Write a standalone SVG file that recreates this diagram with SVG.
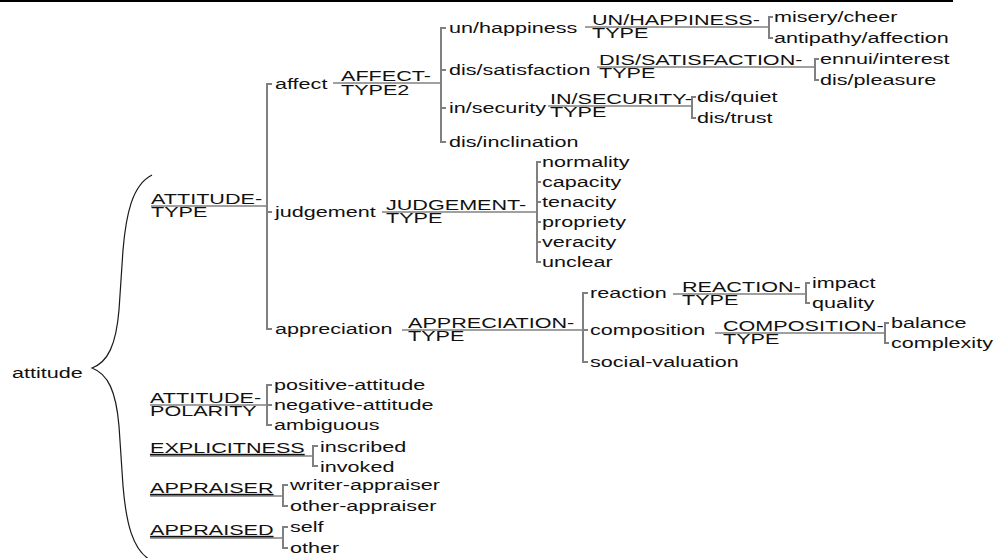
<svg xmlns="http://www.w3.org/2000/svg" width="1005" height="558" viewBox="0 0 1005 558">
<style>
.t{font-family:"Liberation Sans",Arial,sans-serif;font-size:15px;fill:#111}
.u{text-decoration:underline}
.c path{fill:none;stroke:#808080;stroke-width:2}
.c path.h{stroke-width:1.6}
.c path.brace{fill:none;stroke:#1a1a1a;stroke-width:1.2}
</style>
<rect x="0" y="0" width="953" height="2" fill="#000"/>
<g id="connectors" class="c">
<path class="brace" d="M152,175 C132,185 126,215 123,250 L119,310 C116,345 108,362 92,368 C108,374 116,391 119,426 L123,486 C126,521 132,551 152,561"/>
<path class="h" d="M151,206 H267"/>
<path d="M272,84 H267 V329 H272 M267,212 h5"/>
<path class="h" d="M333,83 H441"/>
<path d="M446,28 H441 V142 H446 M441,70 h5 M441,108 h5"/>
<path class="h" d="M585,27 H769"/>
<path d="M773,17 H769 V38 H773"/>
<path class="h" d="M597,67 H815"/>
<path d="M819,59 H815 V80 H819"/>
<path class="h" d="M548,106 H692"/>
<path d="M696,97 H692 V118 H696"/>
<path class="h" d="M382,212 H537"/>
<path d="M541,162 H537 V262 H541 M537,182 h4 M537,202 h4 M537,222 h4 M537,242 h4"/>
<path class="h" d="M402,330 H583"/>
<path d="M588,293 H583 V362 H588 M583,330 h5"/>
<path class="h" d="M673,294 H806"/>
<path d="M810,283 H806 V303 H810"/>
<path class="h" d="M715,333 H885"/>
<path d="M889,323 H885 V343 H889"/>
<path class="h" d="M150,405 H267"/>
<path d="M272,385 H267 V425 H272 M267,405 h5"/>
<path class="h" d="M150,456 H313"/>
<path d="M318,446 H313 V466 H318"/>
<path class="h" d="M150,496 H283"/>
<path d="M288,485 H283 V506 H288"/>
<path class="h" d="M150,538 H283"/>
<path d="M288,527 H283 V548 H288"/>
</g>
<g id="n-attitude"><text class="t" transform="matrix(1.44 0 0 1 12 378)">attitude</text></g>
<g id="n-attitude-type"><text class="t" transform="matrix(1.44 0 0 1 151 204)">ATTITUDE-</text><text class="t" transform="matrix(1.44 0 0 1 151 217)">TYPE</text></g>
<g id="n-affect"><text class="t" transform="matrix(1.44 0 0 1 275 89)">affect</text></g>
<g id="n-affect-type2"><text class="t" transform="matrix(1.44 0 0 1 341 81)">AFFECT-</text><text class="t" transform="matrix(1.44 0 0 1 341 95)">TYPE2</text></g>
<g id="n-unhappiness"><text class="t" transform="matrix(1.44 0 0 1 449 33)">un/happiness</text></g>
<g id="n-unhappiness-type"><text class="t" transform="matrix(1.44 0 0 1 592 25)">UN/HAPPINESS-</text><text class="t" transform="matrix(1.44 0 0 1 592 38)">TYPE</text></g>
<g id="n-misery"><text class="t" transform="matrix(1.44 0 0 1 774 22)">misery/cheer</text></g>
<g id="n-antipathy"><text class="t" transform="matrix(1.44 0 0 1 774 43)">antipathy/affection</text></g>
<g id="n-dissatisfaction"><text class="t" transform="matrix(1.44 0 0 1 449 75)">dis/satisfaction</text></g>
<g id="n-dissatisfaction-type"><text class="t" transform="matrix(1.44 0 0 1 599 65)">DIS/SATISFACTION-</text><text class="t" transform="matrix(1.44 0 0 1 599 78)">TYPE</text></g>
<g id="n-ennui"><text class="t" transform="matrix(1.44 0 0 1 820 64)">ennui/interest</text></g>
<g id="n-displeasure"><text class="t" transform="matrix(1.44 0 0 1 820 85)">dis/pleasure</text></g>
<g id="n-insecurity"><text class="t" transform="matrix(1.44 0 0 1 449 113)">in/security</text></g>
<g id="n-insecurity-type"><text class="t" transform="matrix(1.44 0 0 1 550 104)">IN/SECURITY-</text><text class="t" transform="matrix(1.44 0 0 1 550 117)">TYPE</text></g>
<g id="n-disquiet"><text class="t" transform="matrix(1.44 0 0 1 697 102)">dis/quiet</text></g>
<g id="n-distrust"><text class="t" transform="matrix(1.44 0 0 1 697 123)">dis/trust</text></g>
<g id="n-disinclination"><text class="t" transform="matrix(1.44 0 0 1 449 147)">dis/inclination</text></g>
<g id="n-judgement"><text class="t" transform="matrix(1.44 0 0 1 275 217)">judgement</text></g>
<g id="n-judgement-type"><text class="t" transform="matrix(1.44 0 0 1 386 210)">JUDGEMENT-</text><text class="t" transform="matrix(1.44 0 0 1 386 223)">TYPE</text></g>
<g id="n-normality"><text class="t" transform="matrix(1.44 0 0 1 542 167)">normality</text></g>
<g id="n-capacity"><text class="t" transform="matrix(1.44 0 0 1 542 187)">capacity</text></g>
<g id="n-tenacity"><text class="t" transform="matrix(1.44 0 0 1 542 207)">tenacity</text></g>
<g id="n-propriety"><text class="t" transform="matrix(1.44 0 0 1 542 227)">propriety</text></g>
<g id="n-veracity"><text class="t" transform="matrix(1.44 0 0 1 542 247)">veracity</text></g>
<g id="n-unclear"><text class="t" transform="matrix(1.44 0 0 1 542 267)">unclear</text></g>
<g id="n-appreciation"><text class="t" transform="matrix(1.44 0 0 1 275 334)">appreciation</text></g>
<g id="n-appreciation-type"><text class="t" transform="matrix(1.44 0 0 1 408 328)">APPRECIATION-</text><text class="t" transform="matrix(1.44 0 0 1 408 341)">TYPE</text></g>
<g id="n-reaction"><text class="t" transform="matrix(1.44 0 0 1 590 298)">reaction</text></g>
<g id="n-reaction-type"><text class="t" transform="matrix(1.44 0 0 1 682 292)">REACTION-</text><text class="t" transform="matrix(1.44 0 0 1 682 305)">TYPE</text></g>
<g id="n-impact"><text class="t" transform="matrix(1.44 0 0 1 812 288)">impact</text></g>
<g id="n-quality"><text class="t" transform="matrix(1.44 0 0 1 812 308)">quality</text></g>
<g id="n-composition"><text class="t" transform="matrix(1.44 0 0 1 590 335)">composition</text></g>
<g id="n-composition-type"><text class="t" transform="matrix(1.44 0 0 1 723 331)">COMPOSITION-</text><text class="t" transform="matrix(1.44 0 0 1 723 344)">TYPE</text></g>
<g id="n-balance"><text class="t" transform="matrix(1.44 0 0 1 891 328)">balance</text></g>
<g id="n-complexity"><text class="t" transform="matrix(1.44 0 0 1 891 348)">complexity</text></g>
<g id="n-social-valuation"><text class="t" transform="matrix(1.44 0 0 1 590 367)">social-valuation</text></g>
<g id="n-attitude-polarity"><text class="t" transform="matrix(1.44 0 0 1 150 403)">ATTITUDE-</text><text class="t" transform="matrix(1.44 0 0 1 150 416)">POLARITY</text></g>
<g id="n-positive"><text class="t" transform="matrix(1.44 0 0 1 274 390)">positive-attitude</text></g>
<g id="n-negative"><text class="t" transform="matrix(1.44 0 0 1 274 410)">negative-attitude</text></g>
<g id="n-ambiguous"><text class="t" transform="matrix(1.44 0 0 1 274 430)">ambiguous</text></g>
<g id="n-explicitness"><text class="t u" transform="matrix(1.44 0 0 1 150 453)">EXPLICITNESS</text></g>
<g id="n-inscribed"><text class="t" transform="matrix(1.44 0 0 1 320 452)">inscribed</text></g>
<g id="n-invoked"><text class="t" transform="matrix(1.44 0 0 1 320 472)">invoked</text></g>
<g id="n-appraiser"><text class="t u" transform="matrix(1.44 0 0 1 150 493)">APPRAISER</text></g>
<g id="n-writer"><text class="t" transform="matrix(1.44 0 0 1 290 490)">writer-appraiser</text></g>
<g id="n-other-appraiser"><text class="t" transform="matrix(1.44 0 0 1 290 511)">other-appraiser</text></g>
<g id="n-appraised"><text class="t u" transform="matrix(1.44 0 0 1 150 535)">APPRAISED</text></g>
<g id="n-self"><text class="t" transform="matrix(1.44 0 0 1 290 532)">self</text></g>
<g id="n-other"><text class="t" transform="matrix(1.44 0 0 1 290 553)">other</text></g>
</svg>
